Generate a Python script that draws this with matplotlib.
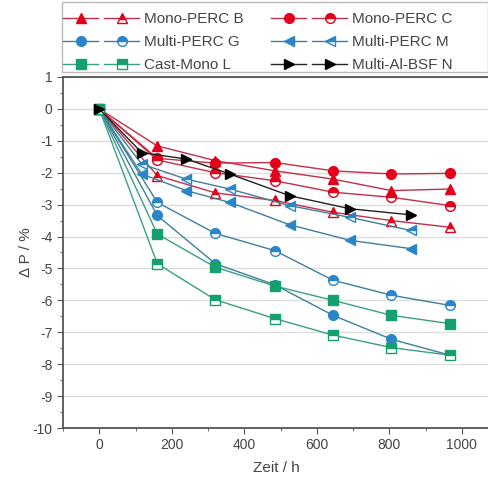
import matplotlib
matplotlib.use("Agg")
import matplotlib.pyplot as plt
from matplotlib.legend_handler import HandlerTuple
from matplotlib.patches import Rectangle
from matplotlib.ticker import MultipleLocator

plt.rcParams['font.family'] = ['Liberation Sans', 'DejaVu Sans']
plt.rcParams['axes.unicode_minus'] = False

# hours for samples B, C, G, L
t_a = [0, 160, 320, 484, 645, 806, 968]
# hours for samples M, N
t_b = [0, 117, 240, 360, 525, 692, 860]

b_full = [0, -1.16, -1.62, -1.94, -2.20, -2.56, -2.51]
b_open = [0, -2.09, -2.63, -2.87, -3.24, -3.50, -3.71]
c_full = [0, -1.55, -1.70, -1.68, -1.94, -2.04, -2.02]
c_open = [0, -1.60, -2.00, -2.25, -2.61, -2.77, -3.03]
g_full = [0, -3.34, -4.85, -5.51, -6.47, -7.22, -7.72]
g_open = [0, -2.93, -3.90, -4.44, -5.37, -5.84, -6.16]
m_full = [0, -2.04, -2.56, -2.93, -3.63, -4.12, -4.38]
m_open = [0, -1.73, -2.20, -2.51, -3.03, -3.40, -3.81]
l_full = [0, -3.92, -4.96, -5.55, -6.00, -6.47, -6.73]
l_open = [0, -4.85, -5.98, -6.57, -7.09, -7.48, -7.72]
n_full = [0, -1.37, -1.57, -2.04, -2.72, -3.13, -3.32]

red, red_ln = '#e2001a', '#c03048'
blue, blue_ln = '#2a86c8', '#3f7f9a'
green, green_ln = '#16a070', '#3a9e88'

fig = plt.figure(figsize=(4.89, 4.82), dpi=100)
ax = fig.add_axes([63/489, 1-428/482, 1-63/489, (428-77)/482])

def curve(x, y, mk, col, lcol, hollow=False):
    kw = dict(marker=mk, color=lcol, lw=1.0, ms=7, mfc=col, mec=col)
    if hollow:
        kw.update(fillstyle='top', mfcalt='white')
    return ax.plot(x, y, **kw)[0]

h = {}
h['B'] = (curve(t_a, b_full, '^', red, red_ln), curve(t_a, b_open, '^', red, red_ln, True))
h['C'] = (curve(t_a, c_full, 'o', red, red_ln), curve(t_a, c_open, 'o', red, red_ln, True))
h['G'] = (curve(t_a, g_full, 'o', blue, blue_ln), curve(t_a, g_open, 'o', blue, blue_ln, True))
h['M'] = (curve(t_b, m_full, '<', blue, blue_ln), curve(t_b, m_open, '<', blue, blue_ln, True))
h['L'] = (curve(t_a, l_full, 's', green, green_ln), curve(t_a, l_open, 's', green, green_ln, True))
n_line = curve(t_b, n_full, '>', 'black', '#222222')
h['N'] = (n_line, n_line)

ax.set_xlim(-100, 1075)
ax.set_ylim(-10, 1)
ax.xaxis.set_major_locator(MultipleLocator(200))
ax.xaxis.set_minor_locator(MultipleLocator(100))
ax.yaxis.set_major_locator(MultipleLocator(1))
ax.yaxis.set_minor_locator(MultipleLocator(0.5))
ax.grid(axis='y', which='major', color='#dddddd', lw=1)
ax.set_axisbelow(True)
ax.tick_params(which='both', direction='out', colors='#555555', labelsize=10, labelcolor='#444444')
ax.tick_params(which='major', length=4)
ax.tick_params(which='minor', length=2)
for s in ['left', 'bottom', 'top']:
    ax.spines[s].set_color('#555555')
    ax.spines[s].set_linewidth(1.3)
ax.spines['right'].set_visible(False)
ax.set_xlabel('Zeit / h', fontsize=11, color='#444444', labelpad=6)
ax.set_ylabel('Δ P / %', fontsize=11, color='#444444', labelpad=0)

labels = ['Mono-PERC B', 'Multi-PERC G', 'Cast-Mono L', 'Mono-PERC C', 'Multi-PERC M', 'Multi-Al-BSF N']
keys = ['B', 'G', 'L', 'C', 'M', 'N']
leg = fig.legend([h[k] for k in keys], labels, ncol=2,
                 handler_map={tuple: HandlerTuple(ndivide=None, pad=0.4)},
                 loc='upper left', bbox_to_anchor=(63/489, 1-12/482),
                 borderaxespad=0, borderpad=0, fontsize=11, handlelength=5.0,
                 handletextpad=0.3, labelspacing=0.6, columnspacing=1.8,
                 frameon=False)
for t in leg.get_texts():
    t.set_color('#444444')

fig.patches.append(Rectangle((62/489, 1-72/482), (488-62)/489, 70/482,
                             transform=fig.transFigure, fill=False,
                             edgecolor='#bbbbbb', lw=1))

plt.savefig('out.png', dpi=100)
